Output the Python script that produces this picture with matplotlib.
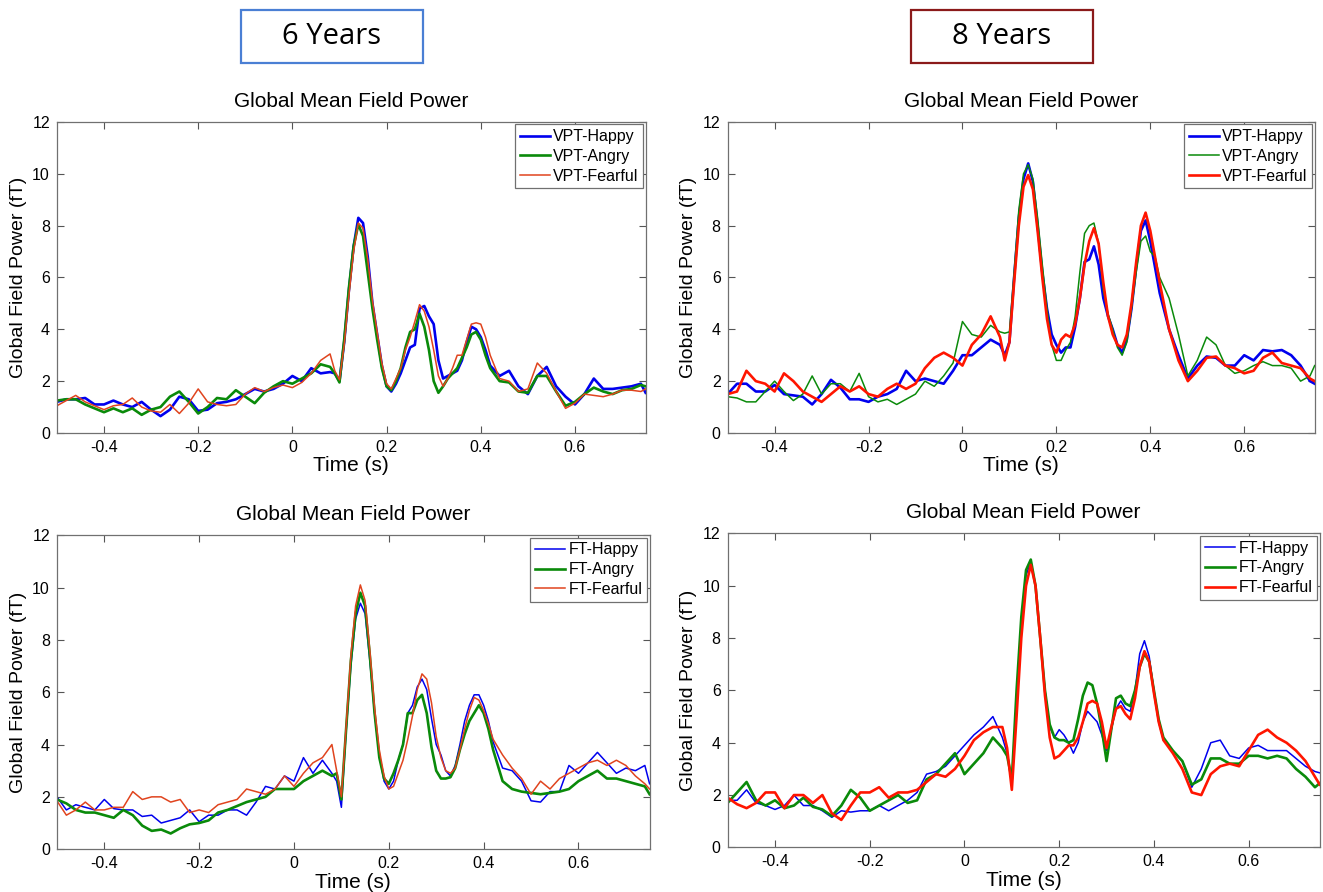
import numpy as np
import matplotlib
matplotlib.use("Agg")
import matplotlib.pyplot as plt
from matplotlib.patches import Rectangle

plt.rcParams['font.family'] = ['Liberation Sans', 'DejaVu Sans']
plt.rcParams['axes.unicode_minus'] = False

# time grid (s): coarse before/after, finer around the evoked peaks
t = np.round(np.concatenate([np.arange(-0.5, 0.081, 0.02),
                             np.arange(0.09, 0.421, 0.01),
                             np.arange(0.44, 0.741, 0.02), [0.75]]), 3)

# ---- 6 Years, VPT ----
vpt6_happy = [1.2,1.3,1.3,1.35,1.1,1.1,1.25,1.1,1.0,1.2, 0.9,0.65,0.9,1.4,1.3,0.85,0.9,1.15,1.2,1.3,
              1.5,1.7,1.6,1.7,1.9,2.2,2.0,2.5,2.3,2.35,
              2.3,2.0,3.5,5.5,7.2,8.3,8.1,6.8,5.0,3.8, 2.6,1.8,1.6,1.9,2.3,2.8,3.3,3.4,4.8,4.9,
              4.5,4.2,2.8,2.1,2.2,2.3,2.4,2.8,3.5,4.1, 4.0,3.7,3.2,2.6,
              2.2,2.4,1.8,1.5,2.2,2.55,1.8,1.4,1.1,1.5,2.1,1.7,1.7,1.75,1.8,1.9,1.55]
vpt6_angry = [1.25,1.3,1.3,1.1,0.95,0.8,0.95,0.8,0.95,0.7, 0.9,1.0,1.4,1.6,1.2,0.75,1.0,1.35,1.3,1.65,
              1.4,1.15,1.55,1.8,2.0,1.9,2.1,2.3,2.65,2.55,
              2.3,1.95,3.6,5.6,7.2,8.05,7.6,6.2,4.8,3.6, 2.5,1.8,1.65,2.0,2.5,3.3,3.9,4.0,4.6,4.1,
              3.2,2.0,1.55,1.8,2.1,2.3,2.5,2.9,3.3,3.8, 3.9,3.6,3.0,2.5,
              2.0,1.95,1.6,1.55,2.2,2.2,1.6,1.05,1.2,1.5,1.75,1.6,1.5,1.65,1.7,1.85,1.8]
vpt6_fearful = [1.05,1.25,1.45,1.2,1.05,0.9,1.05,1.1,1.35,1.0, 0.85,0.8,1.1,0.75,1.15,1.7,1.2,1.1,1.05,1.1,
                1.5,1.75,1.6,1.75,1.85,1.75,1.95,2.3,2.8,3.05,
                2.4,2.05,3.4,5.3,7.0,8.1,7.9,6.7,5.1,3.9, 2.7,1.9,1.7,2.1,2.5,3.2,3.7,4.3,4.95,4.7,
                4.1,3.2,2.2,1.8,2.1,2.5,3.0,3.0,3.6,4.2, 4.25,4.2,3.7,3.0,
                2.1,2.0,1.6,1.7,2.7,2.3,1.6,0.95,1.15,1.5,1.45,1.4,1.5,1.65,1.65,1.6,1.7]

# ---- 8 Years, VPT ----
vpt8_happy = [1.5,1.9,1.9,1.6,1.6,1.85,1.5,1.45,1.4,1.1, 1.5,2.05,1.75,1.3,1.3,1.2,1.4,1.5,1.7,2.4,
              2.0,2.1,2.0,1.9,2.4,3.0,3.0,3.3,3.6,3.4,
              3.0,3.5,6.0,8.3,9.8,10.4,9.7,8.0,6.2,4.8, 3.8,3.4,3.1,3.3,3.3,4.1,5.2,6.6,6.7,7.2,
              6.5,5.2,4.5,4.0,3.4,3.1,3.6,4.8,6.4,7.8, 8.2,7.4,6.4,5.4,
              4.0,3.0,2.1,2.6,2.95,2.9,2.6,2.6,3.0,2.8,3.2,3.15,3.2,3.0,2.6,2.0,1.9]
vpt8_angry = [1.4,1.35,1.2,1.2,1.6,2.0,1.6,1.25,1.5,2.2, 1.5,1.9,1.9,1.6,2.3,1.4,1.2,1.3,1.1,1.3,
              1.5,2.0,1.8,2.2,2.7,4.3,3.8,3.7,4.15,3.9,
              3.85,3.9,6.2,8.6,10.0,10.35,9.8,8.3,6.5,4.8, 3.4,2.8,2.8,3.2,3.5,4.5,6.2,7.7,8.0,8.1,
              7.3,5.5,4.6,4.0,3.3,3.0,3.5,4.8,6.2,7.4, 7.6,7.0,6.8,6.0,
              5.2,3.8,2.2,2.8,3.7,3.4,2.6,2.3,2.4,2.6,2.75,2.6,2.6,2.5,2.0,2.2,2.6]
vpt8_fearful = [1.5,1.6,2.4,2.0,1.9,1.6,2.3,2.0,1.6,1.4, 1.2,1.5,1.8,1.6,1.8,1.5,1.4,1.7,1.9,1.7,
                1.9,2.5,2.9,3.1,2.9,2.6,3.4,3.8,4.5,3.7,
                2.8,3.5,5.8,8.0,9.5,9.95,9.4,7.8,6.0,4.4, 3.4,3.1,3.6,3.8,3.7,4.2,5.2,6.5,7.4,7.9,
                7.3,5.8,4.5,3.8,3.4,3.3,3.8,5.0,6.6,8.0, 8.5,7.8,6.8,5.8,
                4.0,2.8,2.0,2.4,2.9,2.95,2.6,2.5,2.3,2.4,2.9,3.1,2.7,2.6,2.5,2.1,2.0]

# ---- 6 Years, FT ----
ft6_happy = [2.0,1.5,1.7,1.6,1.5,1.9,1.55,1.5,1.5,1.25, 1.3,1.0,1.1,1.2,1.5,1.05,1.3,1.3,1.5,1.5,
             1.3,1.8,2.4,2.3,2.8,2.6,3.5,2.9,3.4,2.9,
             2.6,1.6,4.5,7.0,8.8,9.4,9.0,7.2,5.2,3.6, 2.6,2.3,2.6,3.4,4.0,5.2,5.5,6.2,6.5,6.1,
             5.0,4.0,3.6,3.0,2.8,3.2,4.0,4.9,5.5,5.9, 5.9,5.5,4.9,4.1,
             3.1,3.0,2.6,1.85,1.8,2.2,2.2,3.2,2.9,3.3,3.7,3.3,2.9,3.1,3.0,3.2,2.5]
ft6_angry = [1.9,1.75,1.5,1.4,1.4,1.3,1.2,1.5,1.3,0.9, 0.7,0.75,0.6,0.8,0.95,1.0,1.1,1.4,1.5,1.65,
             1.8,1.9,2.0,2.3,2.3,2.3,2.6,2.8,3.0,2.8,
             2.9,1.9,4.6,7.2,9.0,9.8,9.3,7.4,5.2,3.5, 2.7,2.5,2.9,3.4,4.0,5.2,5.2,5.7,5.9,5.2,
             3.9,3.0,2.7,2.7,2.75,3.1,3.8,4.4,4.9,5.2, 5.5,5.2,4.6,3.8,
             2.6,2.3,2.2,2.15,2.1,2.15,2.2,2.3,2.6,2.8,3.0,2.7,2.7,2.6,2.5,2.4,2.1]
ft6_fearful = [1.85,1.3,1.5,1.8,1.5,1.5,1.6,1.6,2.2,1.9, 2.0,2.0,1.8,1.9,1.4,1.5,1.4,1.7,1.8,1.9,
               2.3,2.2,2.1,2.3,2.8,2.4,2.9,3.3,3.5,4.0,
               3.0,2.0,4.7,7.4,9.3,10.1,9.5,7.6,5.4,3.8, 2.8,2.3,2.4,2.9,3.4,4.2,5.1,6.1,6.7,6.5,
               5.6,4.3,3.5,3.0,2.9,3.1,3.8,4.6,5.3,5.8, 5.7,5.3,4.8,4.2,
               3.6,3.1,2.7,2.1,2.6,2.3,2.7,2.9,3.1,3.3,3.4,3.2,3.4,3.2,2.8,2.5,2.3]

# ---- 8 Years, FT ----
ft8_happy = [1.8,1.8,2.2,1.7,1.6,1.45,1.6,2.0,1.6,1.6, 1.4,1.15,1.4,1.35,1.4,1.4,1.6,1.4,1.6,1.8,
             2.1,2.8,2.9,3.1,3.5,3.9,4.3,4.6,5.0,4.2,
             3.6,2.5,5.5,8.5,10.4,10.9,10.0,8.0,6.0,4.6, 4.2,4.5,4.3,4.0,3.6,4.0,4.8,5.2,5.0,4.8,
             4.3,3.7,4.5,5.3,5.6,5.3,5.2,6.0,7.4,7.9, 7.3,6.0,4.8,4.1,
             3.7,3.3,2.3,3.0,4.0,4.1,3.5,3.4,3.8,3.9,3.7,3.7,3.7,3.4,3.1,2.9,2.85]
ft8_angry = [1.7,2.1,2.5,1.8,1.6,1.8,1.5,1.6,1.9,1.55, 1.45,1.2,1.6,2.2,1.9,1.4,1.6,1.8,2.0,1.7,
             1.8,2.6,2.8,3.2,3.6,2.8,3.2,3.6,4.2,3.8,
             3.5,2.6,6.0,8.8,10.6,11.0,10.0,8.0,6.0,4.7, 4.2,4.1,4.1,4.0,4.1,4.9,5.8,6.3,6.2,5.5,
             4.5,3.3,4.5,5.7,5.8,5.5,5.4,6.0,6.9,7.4, 7.1,6.0,4.9,4.2,
             3.7,3.3,2.4,2.6,3.4,3.4,3.2,3.2,3.5,3.5,3.4,3.5,3.4,3.0,2.7,2.3,2.45]
ft8_fearful = [1.9,1.65,1.5,1.7,2.1,2.1,1.5,2.0,2.0,1.7, 2.0,1.3,1.05,1.6,2.1,2.1,2.3,1.9,2.1,2.1,
               2.2,2.5,2.8,2.7,3.0,3.5,4.1,4.4,4.6,4.6,
               3.8,2.2,5.0,8.0,10.0,10.8,10.0,8.0,5.8,4.2, 3.4,3.5,3.7,3.9,3.9,4.2,4.8,5.5,5.6,5.5,
               4.8,3.8,4.6,5.3,5.4,5.1,4.9,5.7,6.9,7.5, 7.1,5.9,4.8,4.1,
               3.6,3.0,2.1,2.0,2.8,3.1,3.2,3.1,3.7,4.3,4.5,4.2,4.0,3.7,3.3,2.7,2.4]

group_labels = ["6 Years", "8 Years"]
emotions = ["Happy", "Angry", "Fearful"]
xticks = [-0.4, -0.2, 0, 0.2, 0.4, 0.6]
yticks = [0, 2, 4, 6, 8, 10, 12]

BLUE, GREEN = "#0000ee", "#0a8a0a"
RED_THIN, RED_THICK = "#e0441e", "#ff1500"
THICK, THIN = 1.9, 1.1

panels = [
    # (axes rect, prefix, series, colors, widths)
    ([0.043, 0.5146, 0.445, 0.3487], "VPT", [vpt6_happy, vpt6_angry, vpt6_fearful],
     [BLUE, GREEN, RED_THIN], [THICK, THICK, THIN]),
    ([0.550, 0.5146, 0.4437, 0.3487], "VPT", [vpt8_happy, vpt8_angry, vpt8_fearful],
     [BLUE, GREEN, RED_THICK], [THICK, THIN, THICK]),
    ([0.043, 0.048, 0.448, 0.352], "FT", [ft6_happy, ft6_angry, ft6_fearful],
     [BLUE, GREEN, RED_THIN], [THIN, THICK, THIN]),
    ([0.550, 0.050, 0.4475, 0.352], "FT", [ft8_happy, ft8_angry, ft8_fearful],
     [BLUE, GREEN, RED_THICK], [THIN, THICK, THICK]),
]

fig = plt.figure(figsize=(13.23, 8.92), dpi=100)

for rect, prefix, series, cols, lws in panels:
    ax = fig.add_axes(rect)
    for y, emo, c, lw in zip(series, emotions, cols, lws):
        ax.plot(t, y, color=c, lw=lw, label=f"{prefix}-{emo}")
    ax.set_xlim(-0.5, 0.75)
    ax.set_ylim(0, 12)
    ax.set_xticks(xticks)
    ax.set_xticklabels([f"{v:g}" for v in xticks])
    ax.set_yticks(yticks)
    ax.tick_params(direction="in", top=True, right=True, length=5, width=0.8,
                   labelsize=11.5, color="#555555", pad=5)
    for s in ax.spines.values():
        s.set_color("#707070")
        s.set_linewidth(0.9)
    ax.set_title("Global Mean Field Power", fontsize=15, pad=11)
    ax.set_xlabel("Time (s)", fontsize=15, labelpad=1)
    ax.set_ylabel("Global Field Power (fT)", fontsize=14, labelpad=4)
    leg = ax.legend(loc="upper right", fontsize=11.5, frameon=True, fancybox=False,
                    edgecolor="#707070", framealpha=1, borderaxespad=0.15,
                    handlelength=1.9, handletextpad=0.2, borderpad=0.3,
                    labelspacing=0.3)
    leg.get_frame().set_linewidth(0.9)

# header boxes
box_specs = [(0.1822, "#4a7fd4"), (0.6886, "#8b1a1a")]
for (x0, ec), lab in zip(box_specs, group_labels):
    w, h, y0 = 0.1372, 0.0594, 0.9294
    fig.add_artist(Rectangle((x0, y0), w, h, transform=fig.transFigure,
                             facecolor="white", edgecolor=ec, lw=1.6))
    fig.text(x0 + w / 2, y0 + h / 2, lab, ha="center", va="center",
             fontsize=21, family=["Open Sans", "DejaVu Sans"])

fig.savefig("out.png", dpi=100)
